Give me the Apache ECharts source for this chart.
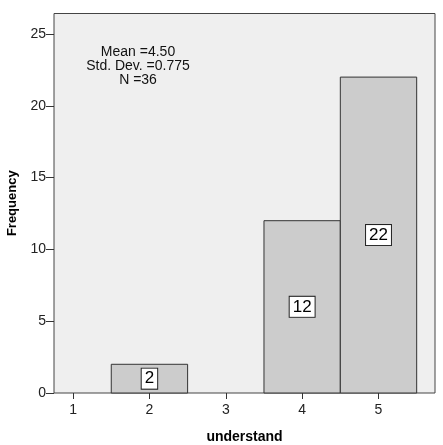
<!DOCTYPE html>
<html><head><meta charset="utf-8">
<script src="https://cdn.jsdelivr.net/npm/echarts@6/dist/echarts.min.js"></script>
<style>html,body{margin:0;padding:0;background:#fff}#c{width:443px;height:445px}</style>
</head><body><div id="c"></div>
<script>
const categories = [1, 2, 3, 4, 5];
const frequencies = [0, 2, 0, 12, 22];
const statsLines = ['Mean =4.50', 'Std. Dev. =0.775', 'N =36'];
const yTicks = [0, 5, 10, 15, 20, 25];

const data = categories.map((c, i) => [c, frequencies[i]]).filter(d => d[1] > 0);
const chart = echarts.init(document.getElementById('c'));
chart.setOption({
  animation: false,
  grid: {left: 54, right: 8, top: 13.5, bottom: 52, show: true, backgroundColor: '#efefef', borderColor: '#444', borderWidth: 1, outerBoundsMode: 'none'},
  xAxis: {type: 'value', min: 0.75, max: 5.74,
    name: 'understand', nameLocation: 'middle', nameGap: 37,
    nameTextStyle: {fontFamily: 'Liberation Sans', fontWeight: 'bold', fontSize: 14, color: '#000'},
    axisLine: {show: false}, splitLine: {show: false},
    axisTick: {show: true, length: 6, lineStyle: {color: '#333'}, customValues: categories},
    axisLabel: {fontFamily: 'Liberation Sans', fontSize: 14, color: '#222', margin: 10, customValues: categories}
  },
  yAxis: {type: 'value', min: 0, max: 26.43,
    name: 'Frequency', nameLocation: 'middle', nameGap: 35,
    nameTextStyle: {fontFamily: 'Liberation Sans', fontWeight: 'bold', fontSize: 13, color: '#000'},
    axisLine: {show: false}, splitLine: {show: false},
    axisTick: {show: true, length: 8, lineStyle: {color: '#333'}, customValues: yTicks},
    axisLabel: {fontFamily: 'Liberation Sans', fontSize: 14, color: '#222', margin: 8, customValues: yTicks}
  },
  series: [{
    type: 'custom', data: data,
    renderItem: function (params, api) {
      const x = api.value(0), y = api.value(1);
      const p0 = api.coord([x - 0.5, y]);
      const p1 = api.coord([x + 0.5, 0]);
      const mid = api.coord([x, y / 2]);
      return {type: 'group', children: [
        {type: 'rect', shape: {x: p0[0], y: p0[1], width: p1[0] - p0[0], height: p1[1] - p0[1]},
          style: {fill: '#cccccc', stroke: '#333', lineWidth: 1}},
        {type: 'text', x: mid[0], y: mid[1],
          style: {text: String(y), fontFamily: 'Liberation Sans', fontSize: 17, fill: '#000',
            align: 'center', verticalAlign: 'middle', backgroundColor: '#fff',
            borderColor: '#222', borderWidth: 1, padding: [2, 3, 1, 3]}}
      ]};
    }
  }],
  graphic: [{type: 'text', x: 138, y: 45, z: 10,
    style: {text: statsLines.join('\n'), align: 'center', verticalAlign: 'top', fontFamily: 'Liberation Sans',
      fontSize: 14, lineHeight: 14, fill: '#111'}}]
});
</script></body></html>
